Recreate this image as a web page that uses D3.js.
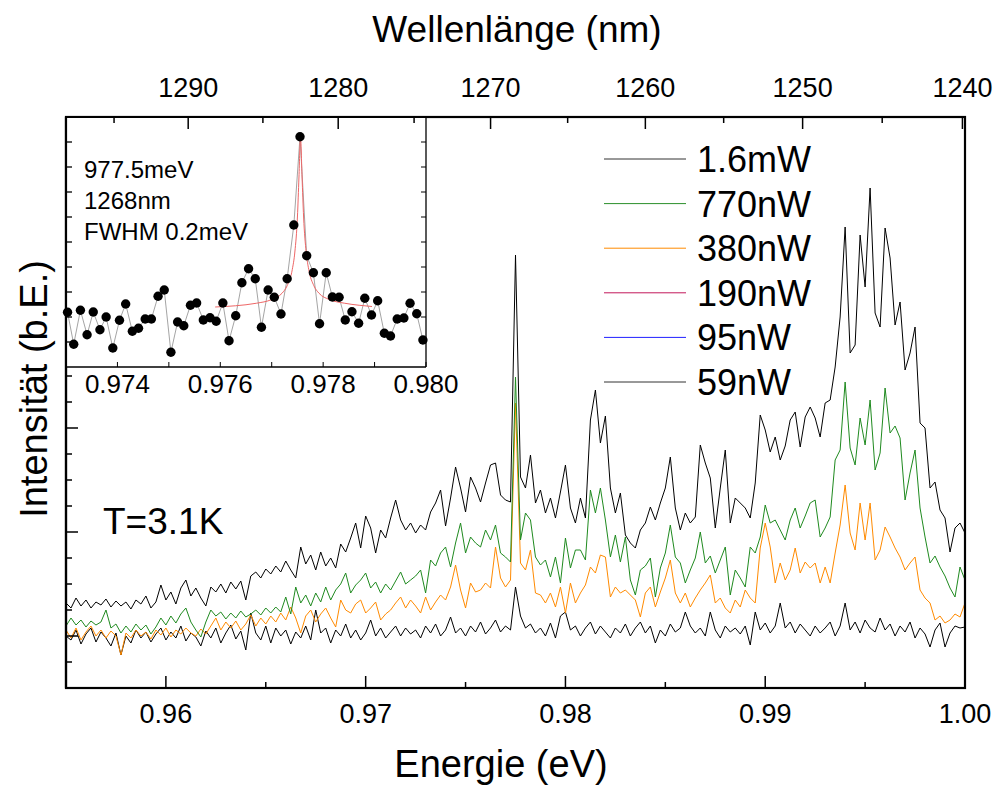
<!DOCTYPE html>
<html><head><meta charset="utf-8">
<script src="https://cdn.jsdelivr.net/npm/d3@7"></script>
<style>body{margin:0;background:#fff}svg{display:block}text{font-family:"Liberation Sans",Arial,sans-serif;fill:#000}</style>
</head><body><svg id="c" width="1000" height="791"></svg>
<script>
// ---------- DATA ----------
const energyMeV = [
955,955.25,955.5,955.75,956,956.25,956.5,956.75,957,957.25,957.5,957.75,958,958.25,958.5,958.75,
959,959.25,959.5,959.75,960,960.25,960.5,960.75,961,961.25,961.5,961.75,962,962.25,962.5,962.75,
963,963.25,963.5,963.75,964,964.25,964.5,964.75,965,965.25,965.5,965.75,966,966.25,966.5,966.75,
967,967.25,967.5,967.75,968,968.25,968.5,968.75,969,969.25,969.5,969.75,970,970.25,970.5,970.75,
971,971.25,971.5,971.75,972,972.25,972.5,972.75,973,973.25,973.5,973.75,974,974.25,974.5,974.75,
975,975.25,975.5,975.75,976,976.25,976.5,976.75,977,977.25,977.5,977.75,978,978.25,978.5,978.75,
979,979.25,979.5,979.75,980,980.25,980.5,980.75,981,981.25,981.5,981.75,982,982.25,982.5,982.75,
983,983.25,983.5,983.75,984,984.25,984.5,984.75,985,985.25,985.5,985.75,986,986.25,986.5,986.75,
987,987.25,987.5,987.75,988,988.25,988.5,988.75,989,989.25,989.5,989.75,990,990.25,990.5,990.75,
991,991.25,991.5,991.75,992,992.25,992.5,992.75,993,993.25,993.5,993.75,994,994.25,994.5,994.75,
995,995.25,995.5,995.75,996,996.25,996.5,996.75,997,997.25,997.5,997.75,998,998.25,998.5,998.75,
999,999.25,999.5,999.75,1000];

const p1600nW = [
85,80,90,82,88,80,86,83,89,81, 87,82,86,79,88,84,92,80,86,103,
88,96,84,100,108,92,100,90,82,101, 96,104,95,106,99,107,88,112,116,110,
119,114,122,116,127,118,110,141,124,133, 118,136,122,130,120,144,136,150,165,140,
172,160,135,158,150,170,188,168,158,165, 155,163,158,176,185,198,162,190,221,200,
176,211,200,186,205,223,225,193,188,186, 433,211,200,233,185,198,175,190,170,196,
223,180,165,190,170,268,298,245,272,200, 175,195,153,145,140,158,165,181,168,185,
200,231,180,158,175,165,171,243,225,210, 160,200,238,165,190,185,180,170,205,273,
258,236,251,228,242,268,276,241,271,281, 270,251,285,288,321,371,461,335,343,453,
401,500,375,361,460,430,363,386,318,335, 361,265,260,200,206,178,170,136,160,165,
155];
const p770nW = [
62,70,63,68,61,67,63,66,78,60, 64,55,62,56,64,58,63,54,61,70,
63,72,65,74,80,66,58,51,66,78, 72,76,69,75,70,77,71,74,78,73,
80,75,81,76,91,74,101,85,93,82, 95,86,101,88,98,104,115,95,103,108,
115,100,106,95,104,98,107,116,104,108, 112,118,95,128,122,135,141,121,145,165,
135,151,145,141,158,148,163,135,131,126, 311,148,175,168,131,123,128,111,131,105,
150,120,138,138,128,198,175,200,168,131, 153,126,151,108,93,118,122,130,91,120,
135,163,131,125,105,118,130,156,125,132, 115,128,141,93,118,110,101,141,135,151,
183,165,168,158,148,168,180,160,172,185, 188,151,160,171,228,238,306,240,223,270,
243,288,218,235,300,255,262,250,188,215, 238,180,151,125,132,121,112,100,91,121,
108];
const p380nW = [
58,50,60,48,56,62,52,58,50,57, 52,33,55,50,58,52,56,49,58,53,
60,51,58,54,60,55,52,59,54,62, 70,58,66,60,67,58,64,73,62,70,
64,72,66,75,68,81,70,55,72,78, 66,74,80,70,61,88,78,75,84,88,
75,80,86,68,74,78,85,91,80,88, 82,75,91,78,86,93,88,101,123,98,
80,105,96,98,105,100,141,110,101,108, 285,125,118,138,95,93,85,95,81,101,
75,105,85,95,103,121,115,133,131,91, 101,95,98,93,88,71,95,101,81,96,
110,128,95,85,95,81,90,98,105,113, 85,90,80,75,88,81,98,90,85,140,
165,141,105,125,108,118,140,115,126,120, 125,105,121,105,135,163,203,155,138,185,
148,185,128,138,161,151,140,131,118,125, 131,98,90,85,68,72,65,68,74,71,
85];
const p59nW = [
52,48,58,44,54,60,46,56,50,42, 55,33,52,45,58,50,56,46,54,60,
48,56,50,62,47,55,51,42,57,50, 60,45,55,63,49,57,38,75,55,48,
62,45,60,52,58,44,56,50,62,48, 78,55,60,45,58,52,64,50,58,48,
55,68,52,60,50,56,62,52,60,54, 58,50,62,55,64,52,58,71,55,60,
52,62,56,66,54,60,68,56,62,58, 101,72,60,64,55,60,52,65,50,72,
76,58,62,52,60,66,54,62,56,50, 60,55,64,52,60,66,55,62,45,58,
52,64,56,60,76,62,55,60,52,76, 58,50,62,56,60,54,62,43,76,58,
65,55,62,85,60,66,55,64,58,52, 62,55,60,66,52,62,85,58,66,55,
68,60,56,70,58,64,52,62,56,66, 50,60,54,41,58,65,41,55,62,60,
61];

const seriesNames  = ["1.6mW","770nW","380nW","190nW","95nW","59nW"];
const seriesColors = ["#333333","#2a8f2a","#ff8a00","#c2185b","#2020ff","#333333"];
const plotted = [
  {name:"59nW", values:p59nW, color:"#000000"},
  {name:"380nW", values:p380nW, color:"#ff8a00"},
  {name:"770nW", values:p770nW, color:"#1f8a1f"},
  {name:"1.6mW", values:p1600nW, color:"#000000"}
];

const energyMajorTicks = [0.96,0.97,0.98,0.99,1.00];
const energyMinorTicks = [0.965,0.975,0.985,0.995];
const wavelengthMajorTicks = [1290,1280,1270,1260,1250,1240];
const wavelengthMinorTicks = [1295,1285,1275,1265,1255,1245];
const intensityMajorTicks = [52,156,260,364,468];
const intensityMinorTicks = [26,78,104,130,182,208,234,286,312,338,390,416,442,494,520,546];

// inset
const insetEnergy = [0.97303,0.97315,0.97328,0.97341,0.97353,0.97366,0.97378,0.97391,0.97404,0.97416,
0.97429,0.97441,0.97454,0.97466,0.97479,0.97491,0.97504,0.97517,0.97529,0.97542,
0.97554,0.97567,0.97580,0.97592,0.97605,0.97617,0.97630,0.97642,0.97655,0.97668,
0.97680,0.97693,0.97705,0.97718,0.97730,0.97743,0.97755,0.97768,0.97781,0.97793,
0.97806,0.97818,0.97831,0.97843,0.97856,0.97869,0.97881,0.97894,0.97906,0.97919,
0.97931,0.97944,0.97957,0.97969,0.97982,0.97994];
const insetCounts = [2.19,0.91,2.27,1.29,2.20,1.49,2.00,0.76,1.87,2.52,
1.43,1.55,1.92,1.92,2.83,3.08,0.59,1.80,1.65,2.47,
2.56,1.88,1.97,1.83,2.56,1.05,2.05,3.37,3.93,3.53,
1.59,3.08,2.79,2.12,3.53,5.68,9.21,4.45,3.77,1.73,
3.77,2.80,2.79,1.88,2.21,1.75,2.75,2.08,2.65,1.35,
1.24,1.92,1.96,2.55,2.13,1.08];
const fitEnergy = [0.97590,0.97630,0.97670,0.97700,0.97720,0.97730,0.97740,0.97745,0.97750,0.97753,0.97756,
0.97759,0.97762,0.97767,0.97772,0.97782,0.97792,0.97812,0.97842,0.97870,0.97895];
const fitCounts = [2.40,2.45,2.55,2.70,2.95,3.25,3.90,4.60,6.00,7.60,9.20,
7.60,6.00,4.60,3.90,3.25,2.95,2.70,2.55,2.47,2.42];
const insetMajorTicks = [0.974,0.976,0.978,0.980];
const insetMinorTicks = [0.975,0.977,0.979];
const insetYTicks = [1,2,3,4,5,6,7,8,9];
const insetNotes = ["977.5meV","1268nm","FWHM 0.2meV"];

// ---------- DRAW ----------
const svg = d3.select("#c");
const L=66,R=965,T=117,B=688;
const x = d3.scaleLinear().domain([0.955,1.0]).range([L,R]);
const y = d3.scaleLinear().domain([0,571]).range([B,T]);
const xw = lam => x(1239.84/lam);

svg.append("clipPath").attr("id","pc").append("rect")
  .attr("x",L).attr("y",T).attr("width",R-L).attr("height",B-T);

const line = d3.line().x((d,i)=>x(energyMeV[i]/1000)).y(d=>y(d));
const g = svg.append("g").attr("clip-path","url(#pc)");
plotted.forEach(s=>{
  g.append("path").attr("d",line(s.values)).attr("fill","none")
   .attr("stroke",s.color).attr("stroke-width",1).attr("stroke-linejoin","round");
});

// axes ticks
const ax = svg.append("g").attr("stroke","#000");
ax.selectAll(".bmaj").data(energyMajorTicks).join("line").attr("class","bmaj")
  .attr("x1",d=>x(d)).attr("x2",d=>x(d)).attr("y1",B).attr("y2",B-12).attr("stroke-width",1.5);
ax.selectAll(".bmin").data(energyMinorTicks).join("line").attr("class","bmin")
  .attr("x1",d=>x(d)).attr("x2",d=>x(d)).attr("y1",B).attr("y2",B-6).attr("stroke-width",1.5);
ax.selectAll(".tmaj").data(wavelengthMajorTicks).join("line").attr("class","tmaj")
  .attr("x1",d=>xw(d)).attr("x2",d=>xw(d)).attr("y1",T).attr("y2",T+12).attr("stroke-width",1.5);
ax.selectAll(".tmin").data(wavelengthMinorTicks).join("line").attr("class","tmin")
  .attr("x1",d=>xw(d)).attr("x2",d=>xw(d)).attr("y1",T).attr("y2",T+6).attr("stroke-width",1.5);
ax.selectAll(".lmaj").data(intensityMajorTicks).join("line").attr("class","lmaj")
  .attr("x1",L).attr("x2",L+12).attr("y1",d=>y(d)).attr("y2",d=>y(d)).attr("stroke-width",1.5);
ax.selectAll(".lmin").data(intensityMinorTicks).join("line").attr("class","lmin")
  .attr("x1",L).attr("x2",L+6).attr("y1",d=>y(d)).attr("y2",d=>y(d)).attr("stroke-width",1.5);

svg.append("rect").attr("x",L).attr("y",T).attr("width",R-L).attr("height",B-T)
  .attr("fill","none").attr("stroke","#000").attr("stroke-width",2.2);

svg.selectAll(".bl").data(energyMajorTicks).join("text").attr("class","bl")
  .attr("x",d=>x(d)).attr("y",723).attr("text-anchor","middle").attr("font-size",27)
  .text(d=>d3.format(".2f")(d));
svg.selectAll(".tl").data(wavelengthMajorTicks).join("text").attr("class","tl")
  .attr("x",d=>xw(d)).attr("y",97).attr("text-anchor","middle").attr("font-size",27)
  .text(d=>d);

svg.append("text").attr("x",501).attr("y",777).attr("text-anchor","middle").attr("font-size",38).text("Energie (eV)");
svg.append("text").attr("x",517).attr("y",42).attr("text-anchor","middle").attr("font-size",37).text("Wellenlänge (nm)");
svg.append("text").attr("transform","translate(47,389) rotate(-90)").attr("text-anchor","middle").attr("font-size",38).text("Intensität (b.E.)");
svg.append("text").attr("x",103).attr("y",534).attr("font-size",37).text("T=3.1K");

// legend
const lg = svg.append("g");
seriesNames.forEach((n,i)=>{
  const yy = 159 + i*44.6;
  lg.append("line").attr("x1",604).attr("x2",686).attr("y1",yy).attr("y2",yy)
    .attr("stroke",seriesColors[i]).attr("stroke-width",1);
  lg.append("text").attr("x",697).attr("y",yy).attr("dy","0.36em").attr("font-size",36).text(n);
});

// inset
const IL=66,IR=426,IT=117,IB=367;
const xi = d3.scaleLinear().domain([0.973,0.980]).range([IL,IR]);
const yi = d3.scaleLinear().domain([0,10]).range([IB,IT]);
const ig = svg.append("g");
ig.append("rect").attr("x",IL).attr("y",IT).attr("width",IR-IL).attr("height",IB-IT)
  .attr("fill","#fff").attr("stroke","none");
ig.append("path").attr("d",d3.line().x((d,i)=>xi(insetEnergy[i])).y(d=>yi(d))(insetCounts))
  .attr("fill","none").attr("stroke","#9a9a9a").attr("stroke-width",0.9);
ig.append("path").attr("d",d3.line().curve(d3.curveMonotoneX).x((d,i)=>xi(fitEnergy[i])).y(d=>yi(d))(fitCounts))
  .attr("fill","none").attr("stroke","#ee6666").attr("stroke-width",1);
ig.selectAll("circle").data(insetCounts).join("circle")
  .attr("cx",(d,i)=>xi(insetEnergy[i])).attr("cy",d=>yi(d)).attr("r",4.7).attr("fill","#000");
ig.selectAll(".ib").data(insetMajorTicks.concat(insetMinorTicks)).join("line").attr("class","ib")
  .attr("x1",d=>xi(d)).attr("x2",d=>xi(d)).attr("y1",IB).attr("y2",IB-5).attr("stroke","#000");
ig.selectAll(".iyl").data(insetYTicks).join("line").attr("class","iyl")
  .attr("x1",IL).attr("x2",IL+6).attr("y1",d=>yi(d)).attr("y2",d=>yi(d)).attr("stroke","#000").attr("stroke-width",1.3);
ig.selectAll(".iyr").data(insetYTicks).join("line").attr("class","iyr")
  .attr("x1",IR).attr("x2",IR-5).attr("y1",d=>yi(d)).attr("y2",d=>yi(d)).attr("stroke","#000");
ig.append("line").attr("x1",IL).attr("x2",IR).attr("y1",IB).attr("y2",IB).attr("stroke","#000").attr("stroke-width",1.3);
ig.append("line").attr("x1",IR).attr("x2",IR).attr("y1",IT).attr("y2",IB).attr("stroke","#000").attr("stroke-width",1.3);
ig.selectAll(".itl").data(insetMajorTicks).join("text").attr("class","itl")
  .attr("x",d=>xi(d)).attr("y",393).attr("text-anchor","middle").attr("font-size",26)
  .text(d=>d3.format(".3f")(d));
insetNotes.forEach((t,i)=>{
  ig.append("text").attr("x",84).attr("y",178+i*31).attr("font-size",24).text(t);
});
// redraw main frame edges + top ticks over inset
svg.append("line").attr("x1",L).attr("x2",R).attr("y1",T).attr("y2",T).attr("stroke","#000").attr("stroke-width",2.2);
svg.append("line").attr("x1",L).attr("x2",L).attr("y1",T).attr("y2",B).attr("stroke","#000").attr("stroke-width",2.2);
svg.selectAll(".tmaj2").data(wavelengthMajorTicks.filter(d=>xw(d)<IR)).join("line").attr("class","tmaj2")
  .attr("x1",d=>xw(d)).attr("x2",d=>xw(d)).attr("y1",T).attr("y2",T+12).attr("stroke","#000").attr("stroke-width",1.5);
svg.selectAll(".tmin2").data(wavelengthMinorTicks.filter(d=>xw(d)<IR)).join("line").attr("class","tmin2")
  .attr("x1",d=>xw(d)).attr("x2",d=>xw(d)).attr("y1",T).attr("y2",T+6).attr("stroke","#000").attr("stroke-width",1.5);
</script></body></html>
